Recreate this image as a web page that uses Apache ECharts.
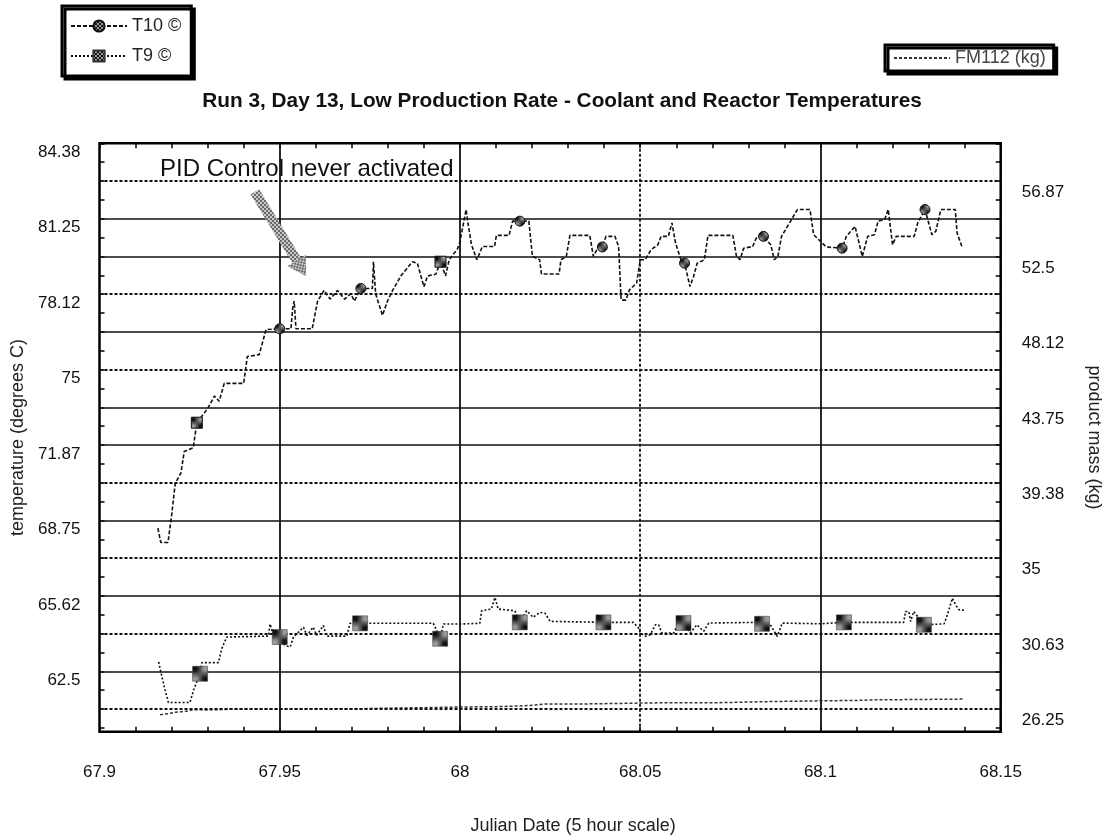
<!DOCTYPE html>
<html><head><meta charset="utf-8">
<script src="https://cdn.jsdelivr.net/npm/echarts@6/dist/echarts.min.js"></script>
<style>html,body{margin:0;padding:0;background:#fff}#chart{width:1102px;height:840px}</style>
</head><body><div id="chart"></div>
<script>
// ---------- data ----------
const xTickLabels = ['67.9', '67.95', '68', '68.05', '68.1', '68.15'];
const leftTickValues = [62.5, 65.625, 68.75, 71.875, 75, 78.125, 81.25, 84.375];
const leftTickLabels = ['62.5', '65.62', '68.75', '71.87', '75', '78.12', '81.25', '84.38'];
const rightTickValues = [26.25, 30.625, 35, 39.375, 43.75, 48.125, 52.5, 56.875];
const rightTickLabels = ['26.25', '30.63', '35', '39.38', '43.75', '48.12', '52.5', '56.87'];

const t10Time = [67.9162, 67.9170, 67.9190, 67.9200, 67.9210, 67.9226, 67.9235, 67.9260, 67.9270, 67.9300,
  67.9319, 67.9332, 67.9346, 67.9400, 67.9410, 67.9443, 67.9462, 67.9500, 67.9531, 67.9536,
  67.9540, 67.9545, 67.9590, 67.9605, 67.9623, 67.9640, 67.9660, 67.9680, 67.9697, 67.9707,
  67.9725, 67.9757, 67.9760, 67.9766, 67.9785, 67.9799, 67.9813, 67.9836, 67.9868, 67.9882,
  67.9900, 67.9910, 67.9933, 67.9946, 67.9960, 67.9970, 67.9993, 68.0000, 68.0017, 68.0022,
  68.0032, 68.0047, 68.0062, 68.0096, 68.0101, 68.0136, 68.0146, 68.0166, 68.0191, 68.0201,
  68.0221, 68.0226, 68.0275, 68.0280, 68.0295, 68.0305, 68.0360, 68.0370, 68.0380, 68.0395,
  68.0405, 68.0430, 68.0440, 68.0447, 68.0460, 68.0470, 68.0490, 68.0500, 68.0514, 68.0530,
  68.0549, 68.0558, 68.0578, 68.0588, 68.0598, 68.0613, 68.0623, 68.0638, 68.0648, 68.0658,
  68.0678, 68.0688, 68.0757, 68.0767, 68.0777, 68.0787, 68.0812, 68.0822, 68.0842, 68.0862,
  68.0872, 68.0882, 68.0892, 68.0917, 68.0936, 68.0971, 68.0981, 68.1016, 68.1060, 68.1072,
  68.1096, 68.1116, 68.1131, 68.1150, 68.1160, 68.1178, 68.1188, 68.1200, 68.1210, 68.1260,
  68.1270, 68.1290, 68.1309, 68.1320, 68.1334, 68.1374, 68.1379, 68.1394];
const t10Temp = [68.43, 67.84, 67.84, 68.95, 70.28, 70.72, 71.61, 71.76, 72.80, 73.39,
  73.91, 73.69, 74.43, 74.43, 75.54, 75.62, 76.66, 76.69, 76.69, 77.55,
  77.84, 76.69, 76.69, 77.84, 78.28, 77.92, 78.28, 77.92, 78.14, 77.84,
  78.36, 78.36, 79.47, 78.14, 77.25, 77.84, 78.28, 78.88, 79.47, 79.40,
  78.43, 78.88, 78.95, 79.47, 78.88, 79.55, 80.00, 80.30, 81.63, 81.08,
  80.17, 79.55, 80.10, 80.10, 80.56, 80.56, 81.15, 81.15, 81.15, 79.69,
  79.55, 78.96, 78.96, 79.55, 79.69, 80.56, 80.56, 79.69, 79.97, 80.08,
  80.52, 80.52, 80.10, 77.88, 77.88, 78.30, 78.58, 79.55, 79.55, 79.97,
  80.17, 80.52, 80.52, 81.08, 80.24, 79.55, 79.41, 78.44, 78.86, 79.41,
  79.55, 80.56, 80.56, 79.69, 79.55, 80.03, 80.10, 80.45, 80.52, 80.17,
  79.55, 79.69, 80.52, 81.15, 81.63, 81.63, 80.59, 80.08, 80.03, 80.52,
  80.93, 79.69, 80.52, 80.59, 81.15, 81.22, 81.63, 80.17, 80.52, 80.52,
  81.08, 81.63, 80.59, 80.73, 81.63, 81.63, 80.66, 80.03];
const t10MarkTimes = [67.9500, 67.9725, 68.0166, 68.0395, 68.0623, 68.0842, 68.1060, 68.1290];
const t10SquareMarkTimes = [67.9270, 67.9946];

const t9Time = [67.9164, 67.9173, 67.9182, 67.9191, 67.9251, 67.9261, 67.9279, 67.9284, 67.9330, 67.9339,
  67.9353, 67.9358, 67.9469, 67.9473, 67.9482, 67.9500, 67.9515, 67.9529, 67.9538, 67.9547,
  67.9566, 67.9575, 67.9593, 67.9602, 67.9621, 67.9630, 67.9686, 67.9695, 67.9723, 67.9926,
  67.9940, 67.9945, 67.9954, 68.0000, 68.0055, 68.0060, 68.0087, 68.0097, 68.0106, 68.0152,
  68.0166, 68.0185, 68.0203, 68.0221, 68.0236, 68.0250, 68.0398, 68.0481, 68.0495, 68.0500,
  68.0514, 68.0528, 68.0542, 68.0551, 68.0560, 68.0593, 68.0611, 68.0620, 68.0639, 68.0657,
  68.0676, 68.0690, 68.0824, 68.0838, 68.0861, 68.0880, 68.0894, 68.1000, 68.1065, 68.1231,
  68.1236, 68.1245, 68.1250, 68.1259, 68.1269, 68.1287, 68.1296, 68.1343, 68.1352, 68.1366,
  68.1375, 68.1384, 68.1403];
const t9Temp = [62.89, 62.28, 61.73, 61.21, 61.21, 61.73, 62.40, 62.86, 62.86, 63.44,
  63.92, 63.96, 63.96, 64.46, 64.05, 63.92, 63.57, 63.51, 63.92, 64.05,
  64.33, 63.99, 64.33, 63.99, 64.40, 63.96, 63.96, 64.49, 64.49, 64.49,
  64.05, 63.85, 64.46, 64.46, 64.49, 65.01, 65.08, 65.56, 65.08, 65.01,
  64.53, 65.01, 64.74, 64.94, 64.91, 64.57, 64.53, 64.53, 64.30, 64.09,
  63.95, 64.02, 64.43, 64.43, 64.09, 64.09, 64.64, 64.50, 64.09, 64.43,
  64.16, 64.50, 64.53, 64.47, 64.43, 63.95, 64.50, 64.47, 64.53, 64.53,
  64.98, 64.98, 64.57, 64.98, 64.78, 64.43, 64.43, 64.47, 64.84, 65.53,
  65.25, 65.05, 65.02];
const t9MarkTimes = [67.9279, 67.9500, 67.9723, 67.9945, 68.0166, 68.0398, 68.0620, 68.0838, 68.1065, 68.1287];

const fmTime = [67.9168, 67.9190, 67.9210, 67.9240, 67.9260, 67.9300, 67.9400, 67.9500, 67.9600, 67.9700,
  67.9820, 67.9900, 68.0000, 68.0100, 68.0180, 68.0236, 68.0350, 68.0450, 68.0500, 68.0600,
  68.0700, 68.0800, 68.0880, 68.1000, 68.1100, 68.1160, 68.1250, 68.1398];
const fmMass = [25.92, 25.98, 26.06, 26.12, 26.21, 26.20, 26.26, 26.25, 26.27, 26.26,
  26.31, 26.33, 26.37, 26.39, 26.44, 26.54, 26.55, 26.58, 26.60, 26.62,
  26.61, 26.66, 26.69, 26.73, 26.75, 26.79, 26.80, 26.83];

// horizontal grid lines (left-axis values) and their style
const hGridValues = [60.9375, 62.5, 64.0625, 65.625, 67.1875, 68.75, 70.3125, 71.875, 73.4375, 75,
  76.5625, 78.125, 79.6875, 81.25, 82.8125];
const hGridDashed = [true, false, true, false, true, false, true, false, false, true,
  false, true, false, false, true];
const vGridValues = [67.95, 68, 68.05, 68.1];
const vGridDashed = [false, false, true, false];
// annotation (data coordinates)
const arrowFrom = [67.9431, 82.36];
const arrowTo = [67.9560, 79.20];
const annotationText = 'PID Control never activated';

// ---------- helpers ----------
const FONT = '"Liberation Sans", Arial, Helvetica, sans-serif';
function checker(a, b, n) {
  const c = document.createElement('canvas'); c.width = 2 * n; c.height = 2 * n;
  const g = c.getContext('2d');
  g.fillStyle = b; g.fillRect(0, 0, 2 * n, 2 * n);
  g.fillStyle = a; g.fillRect(0, 0, n, n); g.fillRect(n, n, n, n);
  return c;
}
const darkChecker = { image: checker('#111', '#9a9a9a', 2), repeat: 'repeat' };
const arrowChecker = { image: checker('#6a6a6a', '#c8c8c8', 2), repeat: 'repeat' };
function near(a, b) { return Math.abs(a - b) < 1e-6; }
function labelFor(vals, labels) {
  return function (v) {
    for (let i = 0; i < vals.length; i++) if (Math.abs(vals[i] - v) < 1e-3) return labels[i];
    return '';
  };
}
const leftMinorTicks = [];
for (let v = 60.15625; v <= 84.375 + 1e-9; v += 0.78125) leftMinorTicks.push(+v.toFixed(5));
const rightMinorTicks = [];
for (let v = 25.15625; v <= 59.0625 + 1e-9; v += 1.09375) rightMinorTicks.push(+v.toFixed(5));

const t10Data = t10Time.map(function (t, i) {
  const item = { value: [t, t10Temp[i]] };
  if (t10MarkTimes.some(m => near(m, t))) { item.symbol = 'circle'; }
  else if (t10SquareMarkTimes.some(m => near(m, t))) { item.symbol = 'rect'; item.symbolSize = 11; }
  else item.symbol = 'none';
  return item;
});
const t9Data = t9Time.map(function (t, i) {
  const item = { value: [t, t9Temp[i]] };
  if (!t9MarkTimes.some(m => near(m, t))) item.symbol = 'none';
  return item;
});
const fmData = fmTime.map((t, i) => [t, fmMass[i]]);

const gridMarkData = hGridValues.map((v, i) => ({ yAxis: v, lineStyle: { type: hGridDashed[i] ? [3, 2] : 'solid', width: hGridDashed[i] ? 2 : 1.6, color: '#111' } }))
  .concat(vGridValues.map((v, i) => ({ xAxis: v, lineStyle: { type: vGridDashed[i] ? [3, 2] : 'solid', width: 1.8, color: '#111' } })));

const chart = echarts.init(document.getElementById('chart'), null, { renderer: 'canvas' });
chart.setOption({
  animation: false,
  backgroundColor: '#fff',
  textStyle: { fontFamily: FONT, color: '#111' },
  title: {
    text: 'Run 3, Day 13, Low Production Rate - Coolant and Reactor Temperatures',
    left: 557, top: 86, textAlign: 'center',
    textStyle: { fontFamily: FONT, fontSize: 20.8, fontWeight: 'bold', color: '#111' }
  },
  legend: [{
    data: ['T10 ©', 'T9 ©'], orient: 'vertical', left: 62, top: 6,
    backgroundColor: '#fff', borderColor: '#000', borderWidth: 3,
    shadowColor: '#000', shadowBlur: 0, shadowOffsetX: 3, shadowOffsetY: 3,
    padding: [11, 10, 11, 8], itemGap: 12, itemWidth: 56, itemHeight: 14,
    textStyle: { fontFamily: FONT, fontSize: 18, color: '#222' }
  }, {
    data: [{ name: 'FM112 (kg)', itemStyle: { opacity: 0 } }], orient: 'horizontal', left: 885, top: 45,
    backgroundColor: '#fff', borderColor: '#000', borderWidth: 3,
    shadowColor: '#000', shadowBlur: 0, shadowOffsetX: 3, shadowOffsetY: 3,
    padding: [4, 8, 4, 8], itemWidth: 56, itemHeight: 14,
    textStyle: { fontFamily: FONT, fontSize: 18, color: '#444' }
  }],
  grid: {
    left: 99.5, right: 101.3, top: 143.3, bottom: 108.3, outerBoundsMode: 'none', containLabel: false,
    show: true, borderColor: '#000', borderWidth: 2.5, backgroundColor: 'transparent'
  },
  xAxis: [{
    type: 'value', min: 67.9, max: 68.15, interval: 0.05,
    name: 'Julian Date (5 hour scale)', nameLocation: 'middle', nameGap: 85,
    nameTextStyle: { fontFamily: FONT, fontSize: 18, color: '#222', padding: [0, 0, 0, 46] },
    axisLine: { show: false },
    axisTick: { show: true, inside: true, length: 5, lineStyle: { color: '#000', width: 1.5 } },
    minorTick: { show: true, splitNumber: 5, length: 5, lineStyle: { color: '#000', width: 1.5 } },
    axisLabel: { margin: 32, fontFamily: FONT, fontSize: 17, color: '#111', formatter: function (v, i) { return xTickLabels[i] !== undefined ? xTickLabels[i] : ''; } },
    splitLine: { show: false }
  }, {
    type: 'value', min: 67.9, max: 68.15, interval: 0.05, position: 'top',
    axisLine: { show: false },
    axisTick: { show: true, inside: true, length: 5, lineStyle: { color: '#000', width: 1.5 } },
    minorTick: { show: true, splitNumber: 5, length: 5, lineStyle: { color: '#000', width: 1.5 } },
    axisLabel: { show: false }, splitLine: { show: false }
  }],
  yAxis: [{
    type: 'value', min: 60, max: 84.375, position: 'left',
    name: 'temperature (degrees C)', nameLocation: 'middle', nameGap: 72,
    nameTextStyle: { fontFamily: FONT, fontSize: 18, color: '#222' },
    axisLine: { show: false },
    axisTick: { show: true, inside: true, length: 5, customValues: leftMinorTicks, lineStyle: { color: '#000', width: 1.5 } },
    axisLabel: { customValues: leftTickValues, margin: 19, verticalAlign: 'top', lineHeight: 18, fontFamily: FONT, fontSize: 17, color: '#111', formatter: labelFor(leftTickValues, leftTickLabels) },
    splitLine: { show: false }
  }, {
    type: 'value', min: 24.9375, max: 59.0625, position: 'right',
    name: 'product mass (kg)', nameLocation: 'middle', nameGap: 84, nameRotate: -90,
    nameTextStyle: { fontFamily: FONT, fontSize: 18, color: '#222' },
    axisLine: { show: false },
    axisTick: { show: true, inside: true, length: 5, customValues: rightMinorTicks, lineStyle: { color: '#000', width: 1.5 } },
    axisLabel: { customValues: rightTickValues, margin: 21, verticalAlign: 'top', lineHeight: 23, fontFamily: FONT, fontSize: 17, color: '#111', formatter: labelFor(rightTickValues, rightTickLabels) },
    splitLine: { show: false }
  }],
  series: [{
    name: 'grid', type: 'line', data: [], silent: true, z: 1,
    markLine: {
      silent: true, symbol: ['none', 'none'], label: { show: false }, animation: false,
      data: gridMarkData
    }
  }, {
    name: 'arrow', type: 'line', data: [], silent: true, z: 4,
    markLine: {
      silent: true, symbol: ['none', 'triangle'], symbolSize: [22, 18], label: { show: false }, animation: false,
      lineStyle: { color: arrowChecker, width: 10, type: 'solid', opacity: 1 },
      itemStyle: { color: arrowChecker },
      data: [[{ coord: arrowFrom }, { coord: arrowTo }]]
    }
  }, {
    name: 'T10 ©', type: 'line', data: t10Data, z: 5,
    symbol: 'circle', symbolSize: 10, showAllSymbol: true,
    lineStyle: { color: '#111', width: 1.6, type: [4, 2] },
    itemStyle: { color: darkChecker, borderColor: '#111', borderWidth: 1 }
  }, {
    name: 'T9 ©', type: 'line', data: t9Data, z: 5,
    symbol: 'rect', symbolSize: 15, showAllSymbol: true,
    lineStyle: { color: '#111', width: 1.6, type: [2, 2] },
    itemStyle: { color: darkChecker, borderColor: '#333', borderWidth: 0.5 }
  }, {
    name: 'FM112 (kg)', type: 'line', data: fmData, yAxisIndex: 1, z: 4,
    symbol: 'none',
    lineStyle: { color: '#333', width: 1.5, type: [3, 2] },
    itemStyle: { color: '#333' }
  }],
  graphic: [{
    type: 'text', left: 160, top: 157, z: 2,
    style: { text: annotationText, font: '24px ' + FONT, fill: '#111' }
  }]
});
</script>
</body></html>
